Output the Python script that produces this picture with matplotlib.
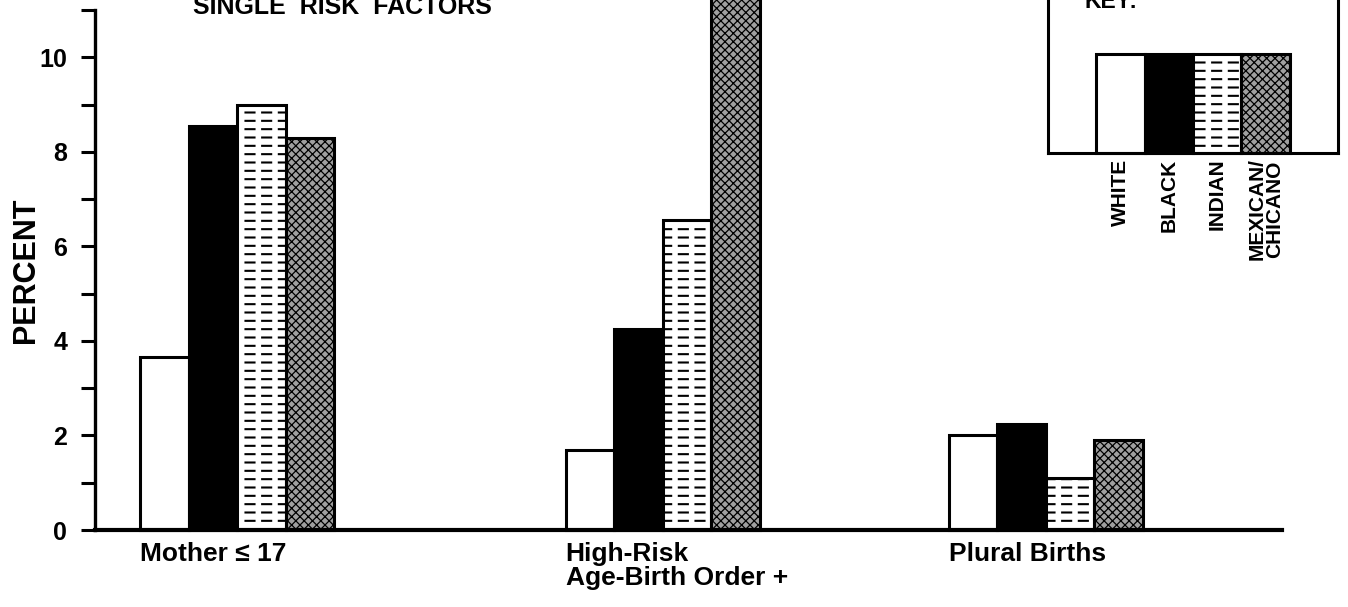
import matplotlib
matplotlib.use("Agg")
import matplotlib.pyplot as plt
import numpy as np

plt.rcParams['font.family'] = ['Liberation Sans', 'DejaVu Sans']
plt.rcParams['font.weight'] = 'bold'

# data (percent)
groups = ["Mother \u2264 17", "High-Risk\nAge-Birth Order +", "Plural Births"]
races = ["WHITE", "BLACK", "INDIAN", "MEXICAN/\nCHICANO"]
white = [3.65, 1.7, 2.0]
black = [8.55, 4.25, 2.25]
indian = [9.0, 6.55, 1.1]
mexican = [8.3, 12.5, 1.9]
series = [white, black, indian, mexican]

# layout (units of one bar width)
group_pos = [2.93, 11.7, 19.6]
offsets = [-1.5, -0.5, 0.5, 1.5]


def draw_bars(ax, x, h, kind):
    # each race gets its own print-style fill
    if kind == 0:
        ax.bar(x, h, width=1, facecolor='white', edgecolor='black', linewidth=2.2, clip_on=False)
    elif kind == 1:
        ax.bar(x, h, width=1, facecolor='black', edgecolor='black', linewidth=2.2, clip_on=False)
    elif kind == 2:
        with plt.rc_context({'hatch.linewidth': 1.5}):
            ax.bar(x, h, width=1, facecolor='white', edgecolor='black', linewidth=0, hatch='--', clip_on=False)
        with plt.rc_context({'hatch.linewidth': 4.0}):
            ax.bar(x, h, width=1, facecolor='none', edgecolor='white', linewidth=0, hatch='|', clip_on=False)
        ax.bar(x, h, width=1, facecolor='none', edgecolor='black', linewidth=2.2, clip_on=False)
    else:
        with plt.rc_context({'hatch.linewidth': 0.9}):
            ax.bar(x, h, width=1, facecolor='#a0a0a0', edgecolor='black', linewidth=2.2,
                   hatch='xxxx', clip_on=False)


fig = plt.figure(figsize=(13.48, 6.07), dpi=100)
W, H = 1348.0, 607.0
ax = fig.add_axes([95 / W, 77 / H, (1282 - 95) / W, 520 / H])

for k, vals in enumerate(series):
    xs = [g + offsets[k] for g in group_pos]
    draw_bars(ax, xs, vals, k)

ax.set_xlim(0, 24.47)
ax.set_ylim(0, 11)
ax.set_yticks(np.arange(0, 11, 2))
ax.set_yticks(np.arange(1, 12, 2), minor=True)
ax.tick_params(axis='y', which='both', direction='out', length=10, width=2.2)
ax.tick_params(axis='y', which='major', labelsize=18, pad=10)
for t in ax.get_yticklabels():
    t.set_fontweight('bold')
ax.set_xticks([])
ax.spines['top'].set_visible(False)
ax.spines['right'].set_visible(False)
ax.spines['left'].set_linewidth(2.4)
ax.spines['bottom'].set_linewidth(3)

fig.text(26 / W, 1 - 270 / H, "PERCENT", fontsize=22, fontweight='bold',
         rotation=90, ha='center', va='center')

for g, lab in zip(group_pos, groups):
    ax.text(g - 2, -0.25, lab, ha='left', va='top', fontsize=19,
            fontweight='bold', linespacing=1.0, clip_on=False)

fig.text(193 / W, 1 - 14 / H, "SINGLE  RISK  FACTORS", fontsize=18,
         fontweight='bold', va='baseline', ha='left')

# key box
kx = fig.add_axes([1048 / W, (H - 153) / H, 290 / W, 165 / H])
kx.set_xlim(0, 6)
kx.set_ylim(0, 1)
for k in range(4):
    draw_bars(kx, [1.5 + k], [0.6], k)
for s in kx.spines.values():
    s.set_linewidth(2.2)
kx.set_xticks([1.5 + k for k in range(4)])
kx.set_xticklabels(races, rotation=90, fontsize=15, fontweight='bold',
                   linespacing=0.9)
kx.tick_params(axis='x', length=0, pad=4)
kx.set_yticks([])
fig.text(1085 / W, 1 - 8 / H, "KEY:", fontsize=16.5, fontweight='bold',
         va='baseline', ha='left')

fig.savefig("out.png", dpi=100)
